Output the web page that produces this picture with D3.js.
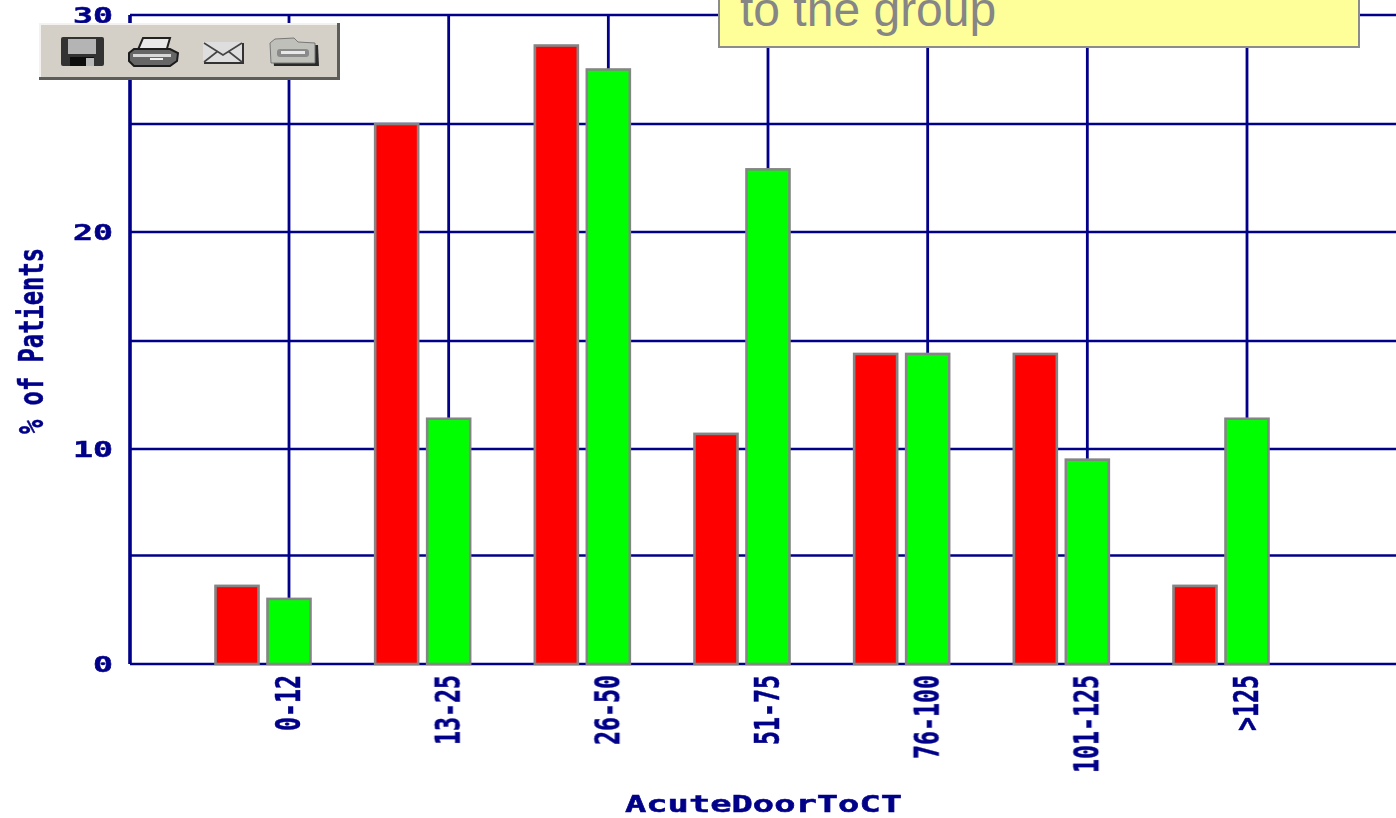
<!DOCTYPE html>
<html>
<head>
<meta charset="utf-8">
<script src="https://cdn.jsdelivr.net/npm/d3@7"></script>
<style>
  html, body { margin: 0; padding: 0; background: #fff; overflow: hidden; }
  svg { display: block; }
  .lbl { font-family: "DejaVu Sans Mono", monospace; font-weight: bold; fill: #000088; stroke: #000088; stroke-width: 0.5px; }
</style>
</head>
<body>
<div class="canvas"></div>
<script>
// values
const categories = ['0-12', '13-25', '26-50', '51-75', '76-100', '101-125', '>125'];
const redValues = [3.6, 25, 28.6, 10.7, 14.4, 14.4, 3.6];
const greenValues = [3, 11.4, 27.5, 22.9, 14.4, 9.5, 11.4];
const gridValues = [0, 5, 10, 15, 20, 25, 30];
const tickLabels = [0, 10, 20, 30];

const svg = d3.select(".canvas").append("svg").attr("width", 1396).attr("height", 818);

// soft look of the upscaled screenshot
const blur = svg.append("defs").append("filter").attr("id", "soft");
blur.append("feGaussianBlur").attr("stdDeviation", 0.5);

const chart = svg.append("g").attr("filter", "url(#soft)");

// the gridlines in the screenshot are not quite evenly spaced
const y = d3.scaleLinear().domain(gridValues).range([664, 555.5, 449, 341, 232, 124, 15]);
const x = d3.scalePoint().domain(categories).range([289, 1247]);
const barW = 43;
const navy = "#000088";

// grid
chart.selectAll(null).data(gridValues).join("line")
    .attr("x1", 130).attr("x2", 1396)
    .attr("y1", d => y(d)).attr("y2", d => y(d))
    .attr("stroke", navy).attr("stroke-width", 2.6);

chart.append("line").attr("x1", 130).attr("x2", 130).attr("y1", y(30)).attr("y2", y(0))
    .attr("stroke", navy).attr("stroke-width", 3.6);

chart.selectAll(null).data(categories).join("line")
    .attr("x1", d => x(d)).attr("x2", d => x(d))
    .attr("y1", y(30)).attr("y2", y(0))
    .attr("stroke", navy).attr("stroke-width", 2.8);

// bars
function bars(values, offset, color) {
    chart.selectAll(null).data(values).join("rect")
        .attr("x", (d, i) => x(categories[i]) + offset)
        .attr("y", d => y(d))
        .attr("width", barW)
        .attr("height", d => y(0) - y(d))
        .attr("fill", color)
        .attr("stroke", "#858585")
        .attr("stroke-width", 2.6);
}
bars(redValues, -73.5, "#ff0000");
bars(greenValues, -21.5, "#00ff00");

// y tick labels
chart.selectAll(null).data(tickLabels).join("text")
    .attr("class", "lbl")
    .attr("x", 113).attr("y", d => y(d) + 8)
    .attr("text-anchor", "end")
    .attr("font-size", 22)
    .attr("textLength", d => String(d).length * 20)
    .attr("lengthAdjust", "spacingAndGlyphs")
    .text(d => d);

// x tick labels, rotated
chart.selectAll(null).data(categories).join("text")
    .attr("class", "lbl")
    .attr("transform", d => `translate(${x(d)},675) rotate(-90)`)
    .attr("text-anchor", "end")
    .attr("dy", 11)
    .attr("font-size", 33)
    .attr("textLength", d => d.length * 14)
    .attr("lengthAdjust", "spacingAndGlyphs")
    .text(d => d);

// axis titles
chart.append("text").attr("class", "lbl")
    .attr("transform", "translate(43,341) rotate(-90)")
    .attr("text-anchor", "middle")
    .attr("font-size", 33)
    .attr("textLength", 186).attr("lengthAdjust", "spacingAndGlyphs")
    .text("% of Patients");

chart.append("text").attr("class", "lbl")
    .attr("x", 763.5).attr("y", 812)
    .attr("text-anchor", "middle")
    .attr("font-size", 23)
    .attr("textLength", 277).attr("lengthAdjust", "spacingAndGlyphs")
    .text("AcuteDoorToCT");

// callout, its upper part is cut off in the reference
const note = svg.append("g");
note.append("rect").attr("x", 719).attr("y", -20).attr("width", 640).attr("height", 67)
    .attr("fill", "#ffff99").attr("stroke", "#8c8c8c").attr("stroke-width", 2);
note.append("text").attr("x", 740).attr("y", 26)
    .attr("font-family", "'Liberation Sans', Arial, sans-serif")
    .attr("font-size", 48).attr("fill", "#868686")
    .text("to the group");

// toolbar
const bar = svg.append("g").attr("filter", "url(#soft)");
bar.append("rect").attr("x", 39).attr("y", 23).attr("width", 301).attr("height", 57).attr("fill", "#5c5c58");
bar.append("rect").attr("x", 39).attr("y", 23).attr("width", 298).attr("height", 54).attr("fill", "#f4f2ee");
bar.append("rect").attr("x", 41).attr("y", 25).attr("width", 296).attr("height", 52).attr("fill", "#d4d0c8");

// floppy
bar.append("rect").attr("x", 61).attr("y", 37).attr("width", 43).attr("height", 29).attr("rx", 2).attr("fill", "#303030");
bar.append("rect").attr("x", 68).attr("y", 39).attr("width", 28).attr("height", 15).attr("fill", "#b4b4b4");
bar.append("rect").attr("x", 70).attr("y", 57).attr("width", 24).attr("height", 9).attr("fill", "#111");
bar.append("rect").attr("x", 86).attr("y", 58).attr("width", 8).attr("height", 8).attr("fill", "#b8b8b8");

// printer
bar.append("path").attr("d", "M143 38 L170 38 L166 52 L137 52 Z").attr("fill", "#e8e8e8").attr("stroke", "#222").attr("stroke-width", 2);
bar.append("path").attr("d", "M129 53 L134 49 L170 49 L178 53 L177 61 L170 66 L134 66 L129 61 Z").attr("fill", "#666").attr("stroke", "#1c1c1c").attr("stroke-width", 2);
bar.append("rect").attr("x", 133).attr("y", 54).attr("width", 38).attr("height", 3).attr("fill", "#d8d8d8");
bar.append("rect").attr("x", 150).attr("y", 58).attr("width", 13).attr("height", 2).attr("fill", "#eee");

// envelope
bar.append("rect").attr("x", 204).attr("y", 43).attr("width", 40).attr("height", 21).attr("fill", "#333");
bar.append("rect").attr("x", 203).attr("y", 42).attr("width", 39).attr("height", 20).attr("fill", "#dedede");
bar.append("path").attr("d", "M204 43 L223 55 L242 43 M204 62 L218 51 M242 62 L228 51").attr("fill", "none").attr("stroke", "#444").attr("stroke-width", 1.6);

// folder
bar.append("path").attr("d", "M272 45 L297 45 L318 45 L319 66 L274 66 Z").attr("fill", "#2a2a2a");
bar.append("path").attr("d", "M270 43 L275 39 L294 38 L298 42 L315 43 L315 63 L271 63 Z").attr("fill", "#c0c0ba").attr("stroke", "#777").attr("stroke-width", 1);
bar.append("rect").attr("x", 277).attr("y", 49).attr("width", 32).attr("height", 8).attr("rx", 3).attr("fill", "#8a8a8a");
bar.append("rect").attr("x", 281).attr("y", 51).attr("width", 24).attr("height", 3).attr("fill", "#e8e8e8");
</script>
</body>
</html>
